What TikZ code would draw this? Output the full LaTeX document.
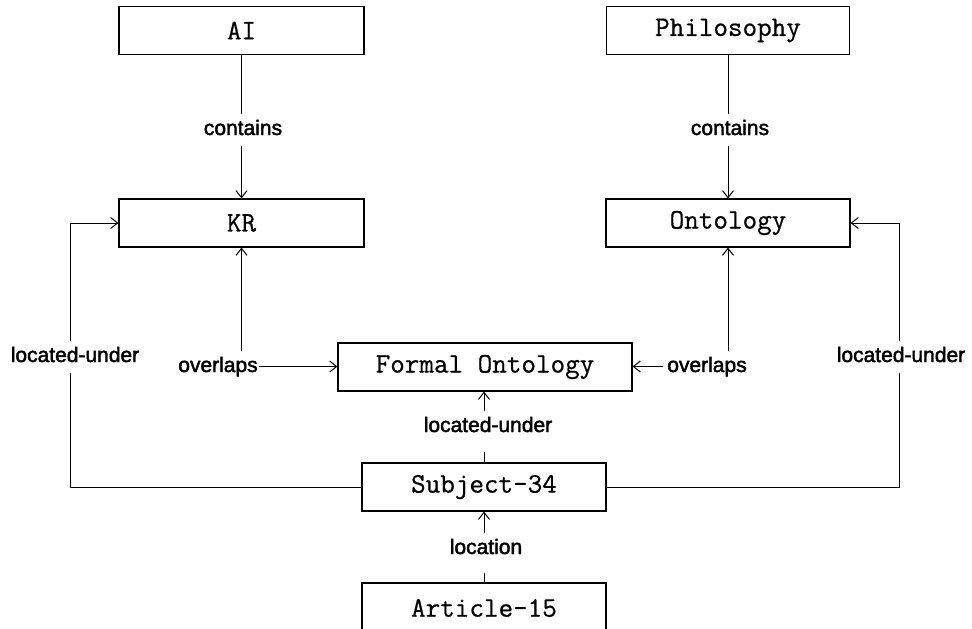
\documentclass[tikz,border=0pt]{standalone}
\usepackage{fontspec}
\setmainfont{Liberation Sans}
\newfontfamily\relfont[FakeBold=2]{Liberation Sans}
\newfontfamily\boxfont[FakeBold=0.6]{Latin Modern Mono}
\usetikzlibrary{arrows.meta}

\begin{document}
\begin{tikzpicture}[x=1pt, y=-1pt,
  every path/.style={line width=1pt},
  concept/.style={draw, line width=1.1pt, minimum height=48pt, inner sep=0pt,
    font=\boxfont\fontsize{28.3}{32}\selectfont},
  rel/.style={anchor=base, inner xsep=1pt, inner ysep=6pt,
    text height=15pt, text depth=4pt,
    font=\relfont\fontsize{21}{24}\selectfont},
  arr/.style={-{Straight Barb[length=7pt,width=11pt]}}
]
\useasboundingbox (0,0) rectangle (972,629);

% concept boxes
\node[concept, minimum width=245pt] (AI)    at (241.5,30.5) {AI};
\node[concept, minimum width=243pt] (Phil)  at (728,30.5)   {Philosophy};
\node[concept, minimum width=245pt] (KR)    at (241.5,223)  {KR};
\node[concept, minimum width=244pt] (Ont)   at (728,223)    {Ontology};
\node[concept, minimum width=294pt] (FO)    at (485,367)    {Formal Ontology};
\node[concept, minimum width=244pt] (Subj)  at (484,487)    {Subject-34};
\node[concept, minimum width=244pt, minimum height=50pt] (Art) at (484,608) {Article-15};

% relation labels (placed on their baselines)
\node[rel] (c1)  at (243,135) {contains};
\node[rel] (c2)  at (730,135) {contains};
\node[rel] (lu1) at (75,362)  {located-under};
\node[rel] (lu2) at (901,362) {located-under};
\node[rel] (ov1) at (218,372) {overlaps};
\node[rel] (ov2) at (707,372) {overlaps};
\node[rel] (lu3) at (488,432) {located-under};
\node[rel] (loc) at (486,554) {location};

% turning points of the two outer located-under links
\coordinate (lx) at (70,487);
\coordinate (rx) at (899,487);

% contains
\draw (AI.south) -- (c1.north -| AI.south);
\draw[arr] (c1.south -| AI.south) -- (KR.north);
\draw (Phil.south) -- (c2.north -| Phil.south);
\draw[arr] (c2.south -| Phil.south) -- (Ont.north);

% overlaps
\draw[arr] (ov1.north -| KR.south) -- (KR.south);
\draw[arr] (ov1.east) -- (ov1.east -| FO.west);
\draw[arr] ([xshift=-3pt]ov2.west) -- (ov2.west -| FO.east);
\draw[arr] (ov2.north -| Ont.south) -- (Ont.south);

% located-under, outer links
\draw (Subj.west) -- (lx) -- (lx |- lu1.south);
\draw[arr] (lx |- lu1.north) |- (KR.west);
\draw (Subj.east) -- (rx) -- (rx |- lu2.south);
\draw[arr] (rx |- lu2.north) |- (Ont.east);

% located-under, middle link
\draw[shorten >=9pt] (Subj.north) -- (Subj.north |- lu3.south);
\draw[arr] (Subj.north |- lu3.north) -- (FO.south -| Subj.north);

% location
\draw[shorten >=8pt] (Art.north) -- (Art.north |- loc.south);
\draw[arr] (Art.north |- loc.north) -- (Subj.south);
\end{tikzpicture}
\end{document}
